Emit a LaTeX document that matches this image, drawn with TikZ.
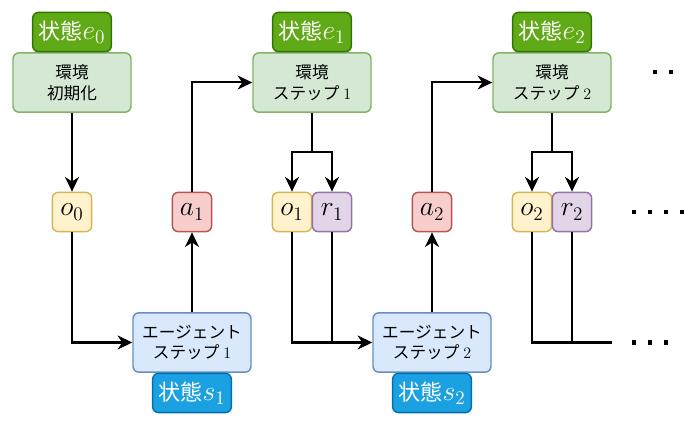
\documentclass[tikz,border=0pt]{standalone}
\usepackage{fontspec}
\newfontfamily\jp{Noto Sans CJK JP}
\usetikzlibrary{arrows.meta}
\definecolor{envfill}{HTML}{D5E8D4}\definecolor{envdraw}{HTML}{82B366}
\definecolor{elfill}{HTML}{60A917}\definecolor{eldraw}{HTML}{2D7600}
\definecolor{ofill}{HTML}{FFF2CC}\definecolor{odraw}{HTML}{D6B656}
\definecolor{afill}{HTML}{F8CECC}\definecolor{adraw}{HTML}{B85450}
\definecolor{rfill}{HTML}{E1D5E7}\definecolor{rdraw}{HTML}{9673A6}
\definecolor{agfill}{HTML}{DAE8FC}\definecolor{agdraw}{HTML}{6C8EBF}
\definecolor{slfill}{HTML}{1BA1E2}\definecolor{sldraw}{HTML}{006EAF}
\tikzset{
  bigbox/.style={rounded corners=4.5pt, line width=1.1pt, minimum width=88.5pt, minimum height=44.5pt, inner sep=0pt, align=center, font=\jp\fontsize{12.5}{15.5}\selectfont},
  envbox/.style={bigbox, fill=envfill, draw=envdraw},
  agbox/.style={bigbox, fill=agfill, draw=agdraw},
  lbl/.style={rounded corners=4.5pt, line width=1.1pt, minimum width=59pt, minimum height=29.5pt, inner sep=0pt, text=white, font=\jp\fontsize{16.5}{18}\selectfont},
  elbl/.style={lbl, fill=elfill, draw=eldraw},
  slbl/.style={lbl, fill=slfill, draw=sldraw},
  small/.style={rounded corners=4.5pt, line width=1.1pt, minimum width=29.5pt, minimum height=29.5pt, inner sep=0pt},
  obox/.style={small, fill=ofill, draw=odraw},
  abox/.style={small, fill=afill, draw=adraw},
  rbox/.style={small, fill=rfill, draw=rdraw},
  arr/.style={line width=1.5pt, -{Stealth[length=11pt, width=10.5pt, inset=3.5pt]}},
  ln/.style={line width=1.5pt},
  dots/.style={line width=3pt, dash pattern=on 3pt off 9pt},
}
\newcommand{\mth}[1]{{\fontsize{21}{22}\selectfont$#1$}}
\newcommand{\bmth}[1]{{\fontsize{22}{22}\selectfont$#1$}}
\newcommand{\num}[1]{{\fontsize{13}{15}\selectfont$#1$}}
\begin{document}
\begin{tikzpicture}[x=0.75pt, y=-0.75pt]
\fill[white] (0,0) rectangle (684,423);
\useasboundingbox (0,0) rectangle (684,423);
% environment boxes
\node[envbox] (env0) at (72,82.5) {環境\\初期化};
\node[envbox] (env1) at (312,82.5) {環境\\ステップ \num{1}};
\node[envbox] (env2) at (552,82.5) {環境\\ステップ \num{2}};
\node[elbl] (le0) at (72,32) {状態\mth{e_0}};
\node[elbl] (le1) at (312,32) {状態\mth{e_1}};
\node[elbl] (le2) at (552,32) {状態\mth{e_2}};
% small boxes
\node[obox] (o0) at (72,212) {\bmth{o_0}};
\node[abox] (a1) at (192,212) {\bmth{a_1}};
\node[obox] (o1) at (292,212) {\bmth{o_1}};
\node[rbox] (r1) at (332,212) {\bmth{r_1}};
\node[abox] (a2) at (432,212) {\bmth{a_2}};
\node[obox] (o2) at (532,212) {\bmth{o_2}};
\node[rbox] (r2) at (572,212) {\bmth{r_2}};
% agent boxes
\node[agbox] (ag1) at (192,342.5) {エージェント\\ステップ \num{1}};
\node[agbox] (ag2) at (432,342.5) {エージェント\\ステップ \num{2}};
\node[slbl] (ls1) at (192,393) {状態\mth{s_1}};
\node[slbl] (ls2) at (432,393) {状態\mth{s_2}};
% connectors
\coordinate (b1) at (312,152);
\coordinate (b2) at (552,152);
\coordinate (end) at (612,342.5);
\draw[arr] (env0.south) -- (o0.north);
\draw[arr] (o0.south) |- (ag1.west);
\draw[arr] (ag1.north) -- (a1.south);
\draw[arr] (a1.north) |- (env1.west);
\draw[ln] (env1.south) -- (b1);
\draw[arr] (b1) -| (o1.north);
\draw[arr] (b1) -| (r1.north);
\draw[arr] (o1.south) |- (ag2.west);
\draw[ln] (r1.south) -- (r1.south |- ag2.west);
\draw[arr] (ag2.north) -- (a2.south);
\draw[arr] (a2.north) |- (env2.west);
\draw[ln] (env2.south) -- (b2);
\draw[arr] (b2) -| (o2.north);
\draw[arr] (b2) -| (r2.north);
\draw[ln] (o2.south) |- (end);
\draw[ln] (r2.south) -- (r2.south |- end);
% continuation dots
\draw[dots] (653,72.5) -- (680,72.5);
\draw[dots] (632,212) -- (684,212);
\draw[dots] (632,342.5) -- (670,342.5);
\end{tikzpicture}
\end{document}
